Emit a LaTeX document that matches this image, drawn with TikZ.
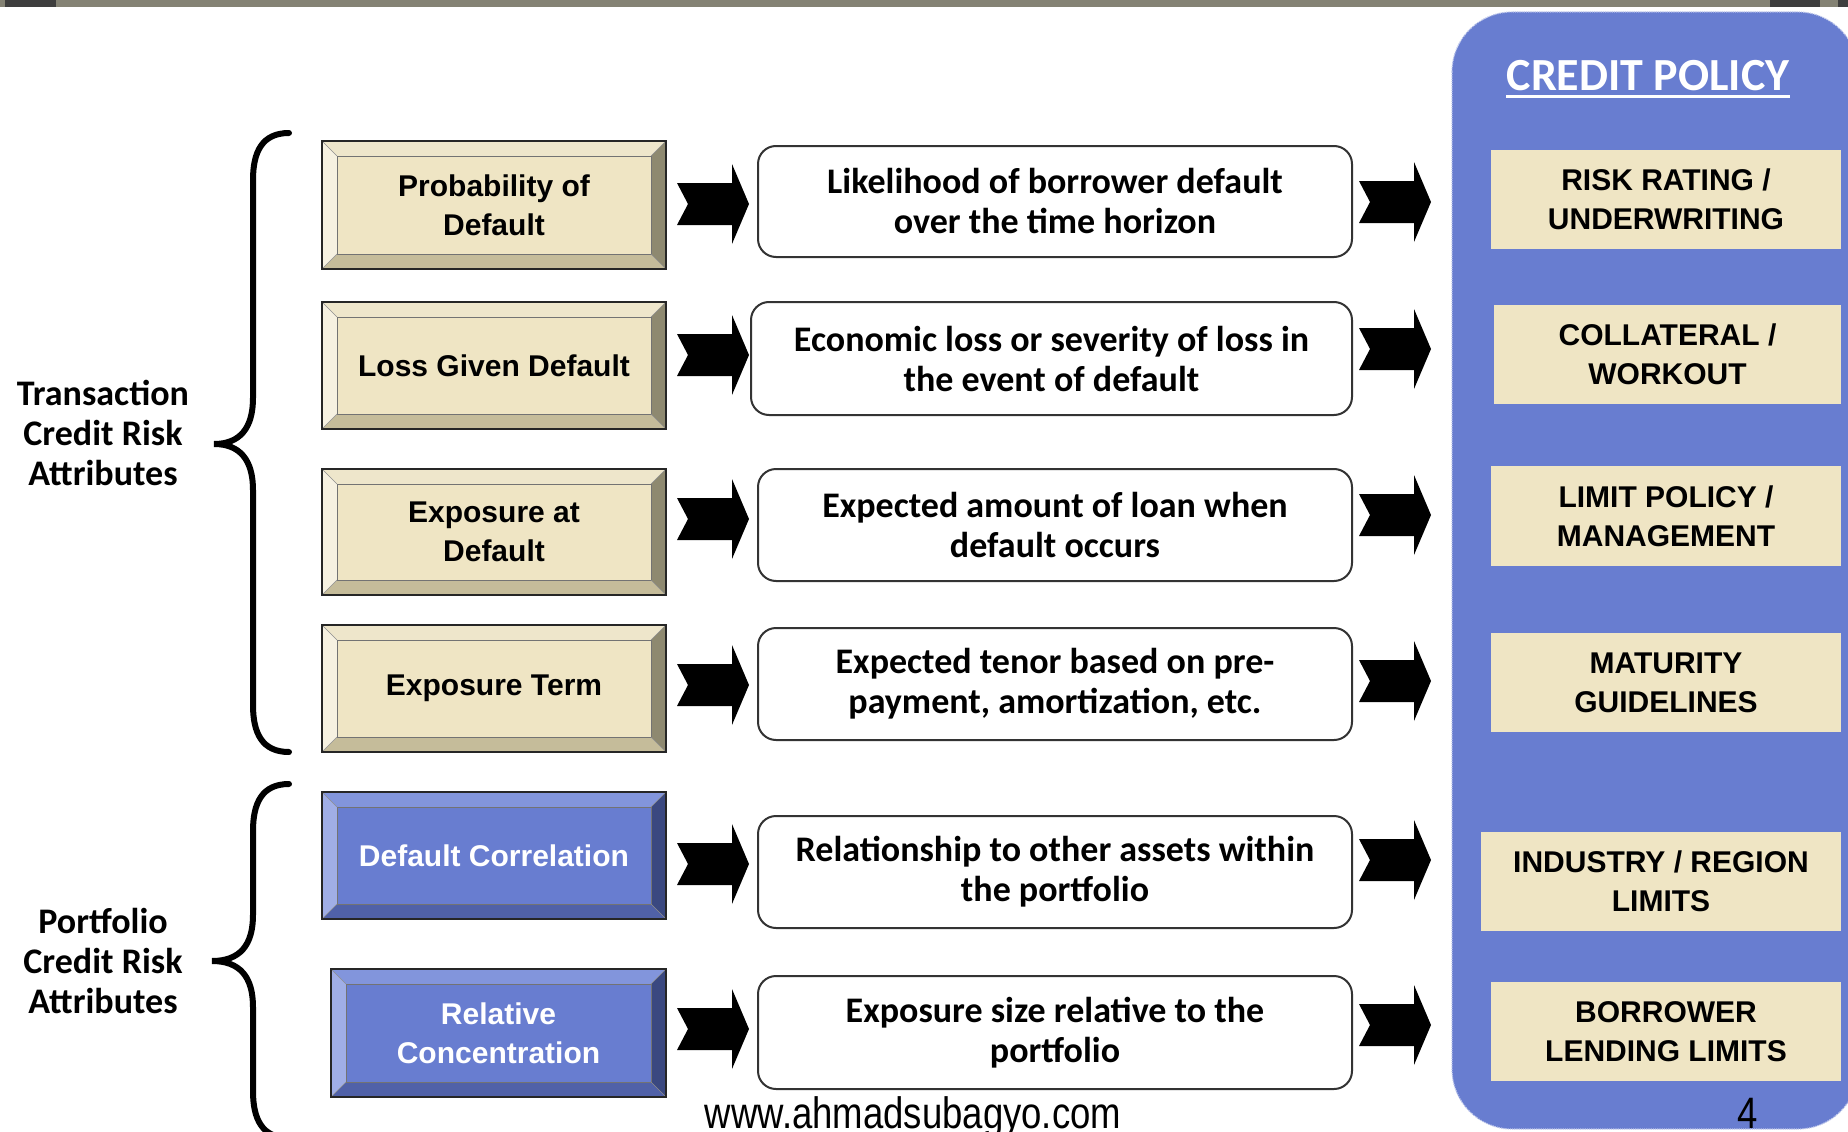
\documentclass[tikz,border=0pt]{standalone}
\usepackage{fontspec}
\setmainfont{Liberation Sans}
\newfontfamily\arialfont{Liberation Sans}
\newfontfamily\calfont{Carlito}
\newcommand{\boxfont}{\arialfont\bfseries\fontsize{30}{39}\selectfont}
\newcommand{\midfont}{\calfont\bfseries\fontsize{36}{40}\selectfont}
\definecolor{panelblue}{RGB}{104,125,208}
\definecolor{bandgray}{RGB}{132,130,116}
\definecolor{banddark}{RGB}{62,62,62}
\definecolor{tanF}{RGB}{239,229,196}
\definecolor{tanT}{RGB}{238,230,203}
\definecolor{tanL}{RGB}{246,241,225}
\definecolor{tanR}{RGB}{142,137,112}
\definecolor{tanB}{RGB}{197,188,154}
\definecolor{bluF}{RGB}{104,125,208}
\definecolor{bluT}{RGB}{130,149,220}
\definecolor{bluL}{RGB}{160,174,230}
\definecolor{bluR}{RGB}{58,72,128}
\definecolor{bluB}{RGB}{80,97,168}
\tikzset{
  tanTxt/.style={text=black},
  bluTxt/.style={text=white},
  midbox/.style={draw=black!80, line width=2pt, rounded corners=18pt, fill=white,
    inner sep=0pt, align=center, font=\midfont},
  polbox/.style={fill=tanF, inner sep=0pt, align=center, font=\boxfont},
  sidelabel/.style={align=center, font=\midfont, inner sep=0pt},
  bracestyle/.style={draw=black, line width=6pt, line cap=round},
}
% #1 name, #2 x1, #3 y1, #4 x2, #5 y2, #6 scheme, #7 text
\newcommand{\bevbox}[7]{%
  \fill[#6T] (#2,#3) -- (#4,#3) -- ({#4-15},{#3+15}) -- ({#2+15},{#3+15}) -- cycle;
  \fill[#6B] (#2,#5) -- (#4,#5) -- ({#4-15},{#5-15}) -- ({#2+15},{#5-15}) -- cycle;
  \fill[#6L] (#2,#3) -- ({#2+15},{#3+15}) -- ({#2+15},{#5-15}) -- (#2,#5) -- cycle;
  \fill[#6R] (#4,#3) -- ({#4-15},{#3+15}) -- ({#4-15},{#5-15}) -- (#4,#5) -- cycle;
  \fill[#6F] ({#2+15},{#3+15}) rectangle ({#4-15},{#5-15});
  \draw[black!55, line width=0.8pt] ({#2+15},{#3+15}) rectangle ({#4-15},{#5-15});
  \draw[black!45, line width=0.6pt] (#2,#3) -- ({#2+15},{#3+15}) (#4,#3) -- ({#4-15},{#3+15})
     (#2,#5) -- ({#2+15},{#5-15}) (#4,#5) -- ({#4-15},{#5-15});
  \draw[black!85, line width=1.5pt] (#2,#3) rectangle (#4,#5);
  \node[inner sep=0pt, minimum width={#4-#2}, minimum height={#5-#3}] (#1) at ({(#2+#4)/2},{(#3+#5)/2}) {};
  \node[#6Txt, align=center, font=\boxfont, inner sep=0pt] (#1t) at (#1.center) {#7};
}
% block arrow with notched tail: #1 left x, #2 centre y
\newcommand{\blkarrow}[2]{%
  \fill[black] ({#1},{#2-21}) -- ({#1+55},{#2-21}) -- ({#1+55},{#2-40}) -- ({#1+72},{#2})
    -- ({#1+55},{#2+40}) -- ({#1+55},{#2+21}) -- ({#1},{#2+21}) -- ({#1+11},{#2}) -- cycle;
}
\begin{document}
\begin{tikzpicture}[x=1pt,y=-1pt]
\useasboundingbox (0,0) rectangle (1848,1132);
\fill[white] (0,0) rectangle (1848,1132);
% top band
\fill[bandgray] (0,0) rectangle (1848,7);
\fill[banddark] (5,0) rectangle (56,7);
\fill[banddark] (1770,0) rectangle (1820,7);
\fill[banddark] (1838,0) rectangle (1848,7);
% credit policy panel
\fill[panelblue, rounded corners=60pt] (1452,12) rectangle (1858,1129);
\draw[white!55!panelblue, line width=1.2pt, densely dotted, rounded corners=60pt] (1452,12) rectangle (1858,1129);
\node[anchor=base, text=white, font=\calfont\bfseries\fontsize{46}{50}\selectfont, inner sep=0pt] (cp) at (1648,90) {CREDIT POLICY};
\draw[white, line width=3pt] ([yshift=-6pt]cp.base west) -- ([yshift=-6pt]cp.base east);
% policy boxes
\node[polbox, minimum width=350pt, minimum height=99pt] (p1) at (1666,199.5) {RISK RATING /\\UNDERWRITING};
\node[polbox, minimum width=347pt, minimum height=99pt] (p2) at (1667.5,354.5) {COLLATERAL /\\WORKOUT};
\node[polbox, minimum width=350pt, minimum height=100pt] (p3) at (1666,516) {LIMIT POLICY /\\MANAGEMENT};
\node[polbox, minimum width=350pt, minimum height=99pt] (p4) at (1666,682.5) {MATURITY\\GUIDELINES};
\node[polbox, minimum width=360pt, minimum height=99pt] (p5) at (1661,881.5) {INDUSTRY / REGION\\LIMITS};
\node[polbox, minimum width=350pt, minimum height=99pt] (p6) at (1666,1031.5) {BORROWER\\LENDING LIMITS};
% left bevelled boxes
\bevbox{l1}{322}{141}{666}{269}{tan}{Probability of\\Default}
\bevbox{l2}{322}{302}{666}{429}{tan}{Loss Given Default}
\bevbox{l3}{322}{469}{666}{595}{tan}{Exposure at\\Default}
\bevbox{l4}{322}{625}{666}{752}{tan}{Exposure Term}
\bevbox{l5}{322}{792}{666}{919}{blu}{Default Correlation}
\bevbox{l6}{331}{969}{666}{1097}{blu}{Relative\\Concentration}
% middle description boxes
\node[midbox, minimum width=594pt, minimum height=111pt] (m1) at (1055,201.5) {Likelihood of borrower default\\over the time horizon};
\node[midbox, minimum width=601pt, minimum height=113pt] (m2) at (1051.5,358.5) {Economic loss or severity of loss in\\the event of default};
\node[midbox, minimum width=594pt, minimum height=112pt] (m3) at (1055,525) {Expected amount of loan when\\default occurs};
\node[midbox, minimum width=594pt, minimum height=112pt] (m4) at (1055,684) {Expected tenor based on pre-\\payment, amortization, etc.};
\node[midbox, minimum width=594pt, minimum height=112pt] (m5) at (1055,872) {Relationship to other assets within\\the portfolio};
\node[midbox, minimum width=594pt, minimum height=113pt] (m6) at (1055,1032.5) {Exposure size relative to the\\portfolio};
% arrows box -> description
\blkarrow{677}{204}
\blkarrow{677}{355}
\blkarrow{677}{519}
\blkarrow{677}{685}
\blkarrow{677}{864}
\blkarrow{677}{1029}
% arrows description -> policy
\blkarrow{1359}{202}
\blkarrow{1359}{349}
\blkarrow{1359}{515}
\blkarrow{1359}{681}
\blkarrow{1359}{860}
\blkarrow{1359}{1025}
% braces
\draw[bracestyle] (289,133) .. controls (262,133) and (253,152) .. (253,180) -- (253,398)
  .. controls (253,428) and (240,444) .. (214,444)
  .. controls (240,444) and (253,460) .. (253,490) -- (253,705)
  .. controls (253,733) and (262,752) .. (289,752);
\draw[bracestyle] (289,784) .. controls (262,784) and (253,803) .. (253,831) -- (253,915)
  .. controls (253,945) and (240,961) .. (212,961)
  .. controls (240,961) and (253,977) .. (253,1007) -- (253,1091)
  .. controls (253,1119) and (262,1138) .. (289,1138);
% side labels
\node[sidelabel] (trans) at (103,432.5) {Transaction\\Credit Risk\\Attributes};
\node[sidelabel] (port) at (103,961) {Portfolio\\Credit Risk\\Attributes};
% footer
\node[anchor=base, inner sep=0pt, font=\arialfont\fontsize{44}{48}\selectfont] (web) at (913,1128) {\scalebox{0.83}[1]{www.ahmadsubagyo.com}};
\node[anchor=base, inner sep=0pt, font=\arialfont\fontsize{44}{48}\selectfont] (pg) at (1748,1128) {\scalebox{0.83}[1]{4}};
\end{tikzpicture}
\end{document}
